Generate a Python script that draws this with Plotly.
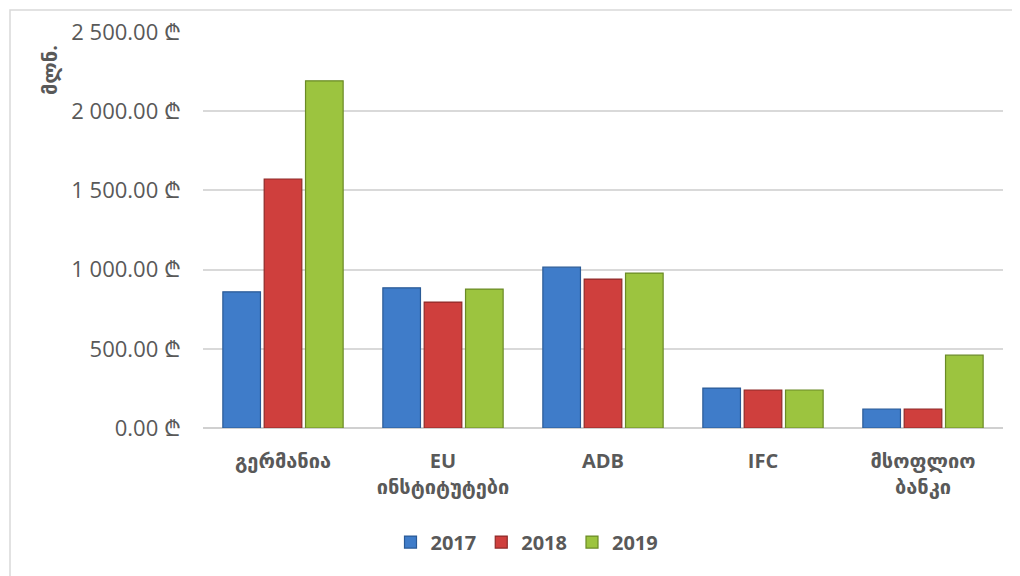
import plotly.graph_objects as go

categories = ["გერმანია", "EU<br>ინსტიტუტები", "ADB", "IFC", "მსოფლიო<br>ბანკი"]
years = ["2017", "2018", "2019"]
values_2017 = [860, 885, 1015, 252, 120]
values_2018 = [1572, 795, 940, 240, 120]
values_2019 = [2192, 877, 978, 240, 460]
tick_vals = [0, 500, 1000, 1500, 2000, 2500]
tick_text = ["0.00 ₾", "500.00 ₾", "1 000.00 ₾", "1 500.00 ₾", "2 000.00 ₾", "2 500.00 ₾"]
y_title = "მლნ."

colors = ["#3f7cc9", "#cf3f3d", "#9cc43f"]
outlines = ["#2a5a96", "#8e2a28", "#6a8a26"]

fig = go.Figure()
for name, vals, c, oc in zip(years, [values_2017, values_2018, values_2019], colors, outlines):
    fig.add_trace(go.Bar(
        x=categories, y=vals, name=name,
        marker=dict(color=c, line=dict(color=oc, width=1.2)),
    ))

font_fam = "Open Sans, DejaVu Sans, sans-serif"
grey = "#595959"

fig.update_layout(
    width=1020, height=576,
    margin=dict(l=195, r=25, t=24, b=156, autoexpand=False),
    paper_bgcolor="white", plot_bgcolor="white",
    barmode="group", bargap=0.225, bargroupgap=0.09,
    font=dict(family=font_fam, color=grey),
    showlegend=True,
    legend=dict(orientation="h", x=0.405, y=-0.288, xanchor="center", yanchor="middle",
                font=dict(size=20, color=grey, family=font_fam, weight="bold"),
                itemwidth=30, tracegroupgap=0),
    xaxis=dict(showgrid=False, showline=False, zeroline=False,
               tickfont=dict(size=20, color=grey, family=font_fam, weight="bold"),
               ticklabelstandoff=19),
    yaxis=dict(range=[0, 2500], tickvals=tick_vals, ticktext=tick_text,
               showgrid=True, gridcolor="#d9d9d9", gridwidth=1.5,
               zeroline=True, zerolinecolor="#d0d0d0", zerolinewidth=2,
               showline=False,
               tickfont=dict(size=22, color=grey, family=font_fam),
               ticklabelstandoff=21),
    annotations=[dict(text=y_title, textangle=-90, xref="paper", yref="paper",
                      x=(50 - 203) / 800, y=(428 - 70) / 396, xanchor="center", yanchor="middle",
                      showarrow=False,
                      font=dict(size=20, color=grey, family=font_fam, weight="bold"))],
    shapes=[dict(type="rect", xref="paper", yref="paper",
                 x0=(10 - 203) / 800, x1=1.05, y0=-0.5, y1=(428 - 10) / 396,
                 line=dict(color="#d9d9d9", width=1.5), layer="below")],
)

fig.write_html("out.html")
